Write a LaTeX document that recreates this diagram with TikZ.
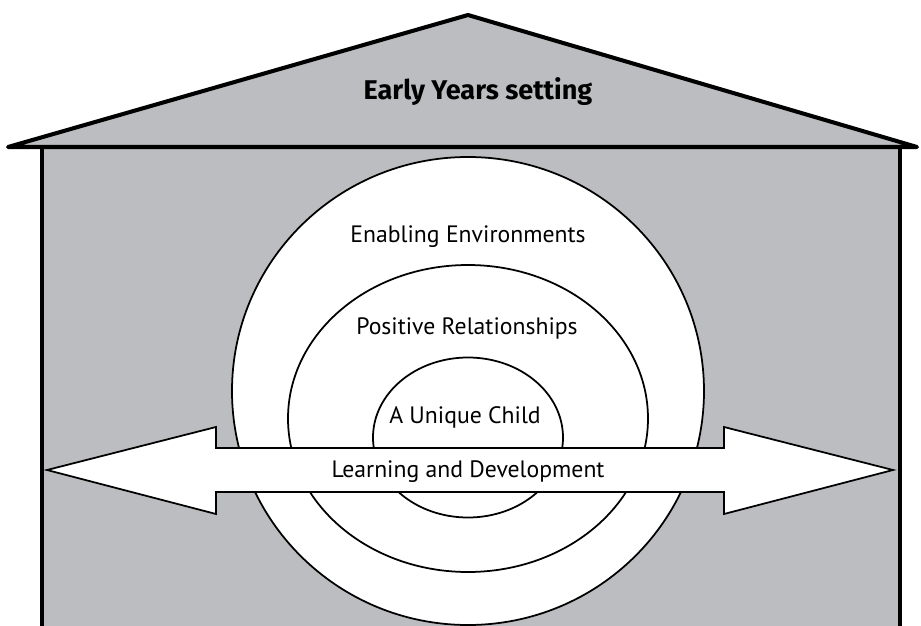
\documentclass[tikz,border=0pt]{standalone}
\usepackage{fontspec}
\setmainfont{PT Sans}
\newfontfamily\titlefont{Fira Sans}
\usepackage{tikz}
\usetikzlibrary{calc}

\definecolor{housegray}{RGB}{188,189,192}

\tikzset{
    ring/.style={draw=black, line width=1pt, fill=white},
    arrowbox/.style={draw=black, line width=1pt, fill=white, line join=miter},
    caption/.style={anchor=base, inner sep=0pt, font=\fontsize{13.5}{16}\selectfont}
}

\begin{document}
\begin{tikzpicture}[x=0.02cm,y=-0.02cm]

        \def \cx {468}
        \def \ground {626}
        \def \eave {147}

        \useasboundingbox (0,0) rectangle (921,626);

        % Draw house
        \fill[housegray] (42,\eave) rectangle (900,\ground);
        \draw[line width=2.3pt, line join=round, fill=housegray]
            (8,\eave) -- (\cx,15) -- (917,\eave) -- cycle;
        \draw[line width=2.6pt] (42,\eave) -- (42,\ground) (900,\eave) -- (900,\ground);

        % Draw rings
        \foreach \rx/\ry/\cy in {236/234/391, 180/153.5/418.5, 95/80/437.5} {
            \draw[ring] (\cx,\cy) ellipse ({\rx} and {\ry});
        }

        % Draw arrow
        \draw[arrowbox] (47,470) -- (216,427) -- (216,448) -- (724,448) -- (724,427)
            -- (893,470) -- (724,514) -- (724,492) -- (216,492) -- (216,514) -- cycle;

        % Labels
        \node[caption, font=\fontsize{15.4}{18}\selectfont\titlefont\bfseries] (setting) at (478,99) {Early Years setting};
        \node[caption] (enabling) at (\cx,242) {Enabling Environments};
        \node[caption] (positive) at (467,334) {Positive Relationships};
        \node[caption] (child) at (465,423) {A Unique Child};
        \node[caption] (learning) at (\cx,477) {Learning and Development};

    \end{tikzpicture}
\end{document}
